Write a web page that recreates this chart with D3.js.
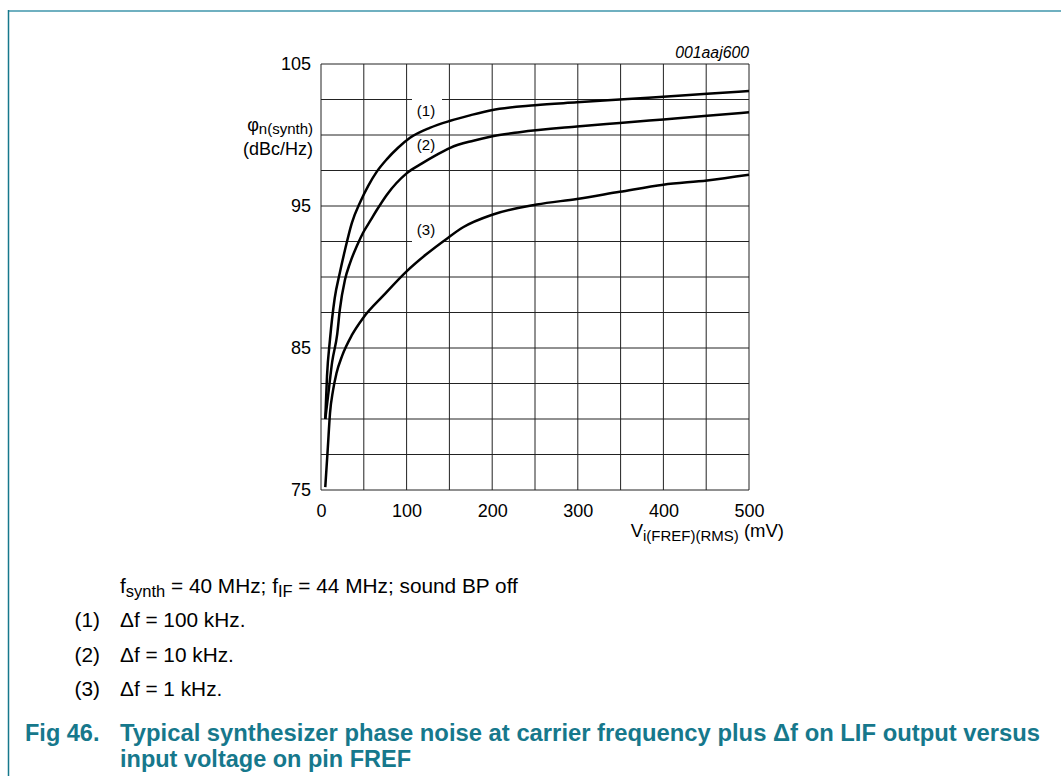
<!DOCTYPE html>
<html><head><meta charset="utf-8">
<script src="https://cdn.jsdelivr.net/npm/d3@7"></script>
<style>
html,body{margin:0;padding:0;background:#fff;}
svg{display:block;font-family:"Liberation Sans",Arial,sans-serif;}
</style></head>
<body>
<svg id="c" width="1061" height="776"></svg>
<script>
// ---- data ----
const xTicks = [0, 100, 200, 300, 400, 500];
const yTicks = [75, 85, 95, 105];
const xGrid = [0, 50, 100, 150, 200, 250, 300, 350, 400, 450, 500];
const yGrid = [75, 77.5, 80, 82.5, 85, 87.5, 90, 92.5, 95, 97.5, 100, 102.5, 105];
const curveLabels = ["(1)", "(2)", "(3)"];
const x1 = [5, 7, 10.5, 16, 22, 28, 36, 46, 55, 65, 77, 90, 104, 127, 151, 175, 199, 250, 299, 349, 400, 451, 500];
const y1 = [80, 83, 85.6, 88.5, 90.3, 91.9, 93.8, 95.3, 96.4, 97.4, 98.3, 99.1, 99.8, 100.5, 101.0, 101.4, 101.75, 102.1, 102.3, 102.5, 102.7, 102.9, 103.1];
const x2 = [5, 9, 13, 19, 22, 28, 34, 42, 49, 58, 65, 77, 100, 118, 135, 151, 178, 199, 232, 299, 349, 400, 451, 500];
const y2 = [80, 82, 84, 86, 87.7, 89.8, 91.0, 92.2, 93.1, 94.0, 94.7, 95.8, 97.3, 98.0, 98.6, 99.1, 99.6, 99.9, 100.2, 100.6, 100.85, 101.1, 101.35, 101.6];
const x3 = [5, 8, 10.5, 14, 18, 25, 36, 49, 73, 100, 123, 147, 166, 201, 252, 299, 349, 400, 451, 500];
const y3 = [75.2, 78, 80.4, 82, 83.2, 84.5, 85.9, 87.1, 88.7, 90.4, 91.6, 92.7, 93.5, 94.4, 95.1, 95.5, 96.0, 96.5, 96.8, 97.2];
const noteLines = ["(1)", "(2)", "(3)"];
const noteTexts = ["Δf = 100 kHz.", "Δf = 10 kHz.", "Δf = 1 kHz."];

// ---- drawing ----
const svg = d3.select("#c");
const x = d3.scaleLinear().domain([0, 500]).range([321, 749]);
const y = d3.scaleLinear().domain([75, 105]).range([490, 64]);
const teal = "#16788c";

// frame
svg.append("line").attr("x1", 8).attr("x2", 1061).attr("y1", 11).attr("y2", 11)
  .attr("stroke", "#6fb0c0").attr("stroke-width", 2);
svg.append("line").attr("x1", 8.5).attr("x2", 8.5).attr("y1", 10).attr("y2", 776)
  .attr("stroke", teal).attr("stroke-width", 1.5);

// grid
const g = svg.append("g");
const gapL = 412, gapR = 442;
yGrid.forEach(v => {
  if (v === 102.5 || v === 92.5) {
    g.append("line").attr("x1", x(0)).attr("x2", gapL).attr("y1", y(v)).attr("y2", y(v)).attr("stroke", "#222").attr("stroke-width", 1);
    g.append("line").attr("x1", gapR).attr("x2", x(500)).attr("y1", y(v)).attr("y2", y(v)).attr("stroke", "#222").attr("stroke-width", 1);
  } else {
    g.append("line").attr("x1", x(0)).attr("x2", x(500)).attr("y1", y(v)).attr("y2", y(v)).attr("stroke", "#222").attr("stroke-width", 1);
  }
});
xGrid.forEach(v => {
  g.append("line").attr("x1", x(v)).attr("x2", x(v)).attr("y1", y(75)).attr("y2", y(105)).attr("stroke", "#222").attr("stroke-width", 1);
});

// axes labels
const xAxis = d3.axisBottom(x).tickValues(xTicks).tickSize(0).tickPadding(14);
const xa = svg.append("g").attr("transform", `translate(0,${y(75)})`).call(xAxis);
xa.select(".domain").remove();
xa.selectAll("text").attr("font-size", 18).attr("fill", "#000").attr("font-family", "Liberation Sans, Arial, sans-serif");
const yAxis = d3.axisLeft(y).tickValues(yTicks).tickSize(0).tickPadding(10);
const ya = svg.append("g").attr("transform", `translate(${x(0)},0)`).call(yAxis);
ya.select(".domain").remove();
ya.selectAll("text").attr("font-size", 18).attr("fill", "#000").attr("font-family", "Liberation Sans, Arial, sans-serif");

// y title
const yt = svg.append("text").attr("x", 313).attr("y", 131).attr("text-anchor", "end").attr("font-size", 18);
yt.append("tspan").text("φ");
yt.append("tspan").attr("font-size", 15).attr("dy", 3).text("n(synth)");
svg.append("text").attr("x", 313).attr("y", 155).attr("text-anchor", "end").attr("font-size", 18).text("(dBc/Hz)");

// x title
const xt = svg.append("text").attr("x", 784).attr("y", 537).attr("text-anchor", "end").attr("font-size", 18.5);
xt.append("tspan").text("V");
xt.append("tspan").attr("font-size", 15).attr("dy", 4).text("i(FREF)(RMS)");
xt.append("tspan").attr("dy", -4).text(" (mV)");

// code
svg.append("text").attr("x", 749).attr("y", 58).attr("text-anchor", "end").attr("font-size", 15.8)
  .attr("font-style", "italic").text("001aaj600");

// curves
const line = d3.line().x(d => x(d[0])).y(d => y(d[1])).curve(d3.curveMonotoneX);
[[x1, y1], [x2, y2], [x3, y3]].forEach(([xs, ys]) => {
  svg.append("path").datum(xs.map((v, i) => [v, ys[i]]))
    .attr("d", line).attr("fill", "none").attr("stroke", "#000").attr("stroke-width", 2.5);
});

// curve labels
const labelY = [116, 150, 235];
curveLabels.forEach((t, i) => {
  svg.append("text").attr("x", 426).attr("y", labelY[i]).attr("text-anchor", "middle").attr("font-size", 15).text(t);
});

// notes
const n0 = svg.append("text").attr("x", 120).attr("y", 593).attr("font-size", 20.8);
n0.append("tspan").text("f");
n0.append("tspan").attr("font-size", 16.5).attr("dy", 4).text("synth");
n0.append("tspan").attr("dy", -4).text(" = 40 MHz; f");
n0.append("tspan").attr("font-size", 16.5).attr("dy", 4).text("IF");
n0.append("tspan").attr("dy", -4).text(" = 44 MHz; sound BP off");
noteLines.forEach((t, i) => {
  const yy = 627 + i * 34.5;
  svg.append("text").attr("x", 100).attr("y", yy).attr("text-anchor", "end").attr("font-size", 20.8).text(t);
  svg.append("text").attr("x", 120).attr("y", yy).attr("font-size", 20.8).text(noteTexts[i]);
});

// caption
svg.append("text").attr("x", 25).attr("y", 741).attr("font-size", 23.5).attr("font-weight", "bold").attr("fill", teal).text("Fig 46.");
svg.append("text").attr("x", 120).attr("y", 741).attr("font-size", 23.5).attr("font-weight", "bold").attr("fill", teal)
  .attr("textLength", 920).attr("lengthAdjust", "spacingAndGlyphs")
  .text("Typical synthesizer phase noise at carrier frequency plus Δf on LIF output versus");
svg.append("text").attr("x", 120).attr("y", 767).attr("font-size", 23.5).attr("font-weight", "bold").attr("fill", teal)
  .text("input voltage on pin FREF");
</script>
</body></html>
